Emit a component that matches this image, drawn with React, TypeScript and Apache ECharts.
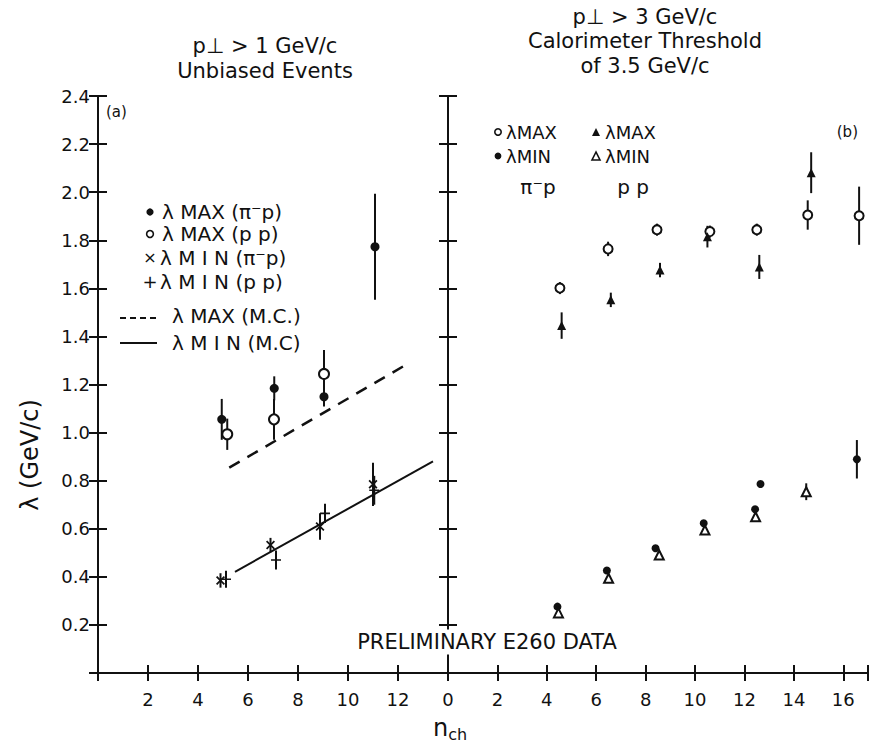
import React, { useEffect, useRef } from "react";
import * as echarts from "echarts";

// ---------- Panel (a): p⊥ > 1 GeV/c, unbiased events  [n_ch, λ, error] ----------
const maxPiP_a = [[4.95, 1.055, 0.085], [7.05, 1.184, 0.05], [9.04, 1.149, 0.04], [11.08, 1.773, 0.22]];
const maxPP_a = [[5.17, 0.993, 0.065], [7.04, 1.055, 0.085], [9.04, 1.244, 0.1]];
const minPiP_a = [[4.9, 0.385, 0.03], [6.9, 0.532, 0.03], [8.88, 0.609, 0.055], [11.0, 0.785, 0.09]];
const minPP_a = [[5.12, 0.39, 0.035], [7.12, 0.47, 0.04], [9.08, 0.664, 0.04], [11.05, 0.76, 0.06]];
const mcMax_a = [[5.25, 0.854], [12.3, 1.281]];
const mcMin_a = [[5.48, 0.421], [13.4, 0.88]];

// ---------- Panel (b): p⊥ > 3 GeV/c, calorimeter threshold 3.5 GeV/c ----------
const maxPiP_b = [[4.53, 1.601, 0.025], [6.48, 1.764, 0.03], [8.46, 1.844, 0.025], [10.6, 1.836, 0.025], [12.5, 1.844, 0.025], [14.56, 1.905, 0.061], [16.64, 1.902, 0.121]];
const maxPP_b = [[4.6, 1.445, 0.055], [6.59, 1.552, 0.03], [8.58, 1.676, 0.03], [10.5, 1.815, 0.045], [12.6, 1.689, 0.05], [14.7, 2.081, 0.085]];
const minPiP_b = [[4.43, 0.276, 0.01], [6.43, 0.426, 0.01], [8.4, 0.519, 0.01], [10.35, 0.623, 0.01], [12.43, 0.681, 0.01], [12.65, 0.786, 0.01], [16.55, 0.889, 0.08]];
const minPP_b = [[4.47, 0.25, 0.01], [6.5, 0.394, 0.01], [8.55, 0.491, 0.01], [10.4, 0.595, 0.01], [12.45, 0.65, 0.01], [14.5, 0.754, 0.035]];

// ---------- Tick labels ----------
const yTickLabels = ["0.2", "0.4", "0.6", "0.8", "1.0", "1.2", "1.4", "1.6", "1.8", "2.0", "2.2", "2.4"];
const xTickLabels_a = ["2", "4", "6", "8", "10", "12"];
const xTickLabels_b = ["0", "2", "4", "6", "8", "10", "12", "14", "16"];

const FONT = "'DejaVu Sans', sans-serif";
const INK = "#111111";
const PLUS = "path://M4.2,0H5.8V10H4.2ZM0,4.2H10V5.8H0Z";

function errSeries(data: number[][], idx: number) {
  return {
    type: "custom",
    xAxisIndex: idx * 2,
    yAxisIndex: idx * 2,
    silent: true,
    z: 2,
    data: data,
    encode: { x: 0, y: 1 },
    renderItem: (_p: any, api: any) => {
      const x = api.value(0), y = api.value(1), e = api.value(2);
      const a = api.coord([x, y - e]);
      const b = api.coord([x, y + e]);
      return { type: "line", shape: { x1: a[0], y1: a[1], x2: b[0], y2: b[1] }, style: { stroke: INK, lineWidth: 2 } };
    },
  };
}

function pts(data: number[][], idx: number, symbol: string, size: number, open = false, rotate = 0) {
  return {
    type: "scatter",
    xAxisIndex: idx * 2,
    yAxisIndex: idx * 2,
    silent: true,
    z: 3,
    symbol,
    symbolSize: size,
    symbolRotate: rotate,
    data: data.map((d) => [d[0], d[1]]),
    itemStyle: open
      ? { color: "#fff", borderColor: INK, borderWidth: 2, opacity: 1 }
      : { color: INK, opacity: 1 },
  };
}

function xAxes(grid: number, max: number, labels: string[]) {
  return [
    {
      type: "value", gridIndex: grid, min: 0, max, interval: 2, position: "bottom",
      axisLine: { show: true, lineStyle: { color: INK, width: 2 } },
      axisTick: { show: true, inside: true, length: 8, lineStyle: { color: INK, width: 2 } },
      splitLine: { show: false },
      axisLabel: {
        color: INK, fontSize: 18, fontFamily: FONT, margin: 17,
        formatter: (v: number) => (labels.includes(String(v)) ? String(v) : ""),
      },
    },
    {
      type: "value", gridIndex: grid, min: 0, max, interval: 2, position: "top",
      axisLine: { show: true, lineStyle: { color: INK, width: 2 } },
      axisTick: { show: true, inside: true, length: 8, lineStyle: { color: INK, width: 2 } },
      splitLine: { show: false },
      axisLabel: { show: false },
    },
  ];
}

function yAxes(grid: number, withLabels: boolean) {
  return [
    {
      type: "value", gridIndex: grid, min: 0, max: 2.4, interval: 0.2, position: "left",
      axisLine: { show: true, lineStyle: { color: INK, width: 2 } },
      axisTick: { show: true, inside: true, length: 9, lineStyle: { color: INK, width: 2 } },
      splitLine: { show: false },
      axisLabel: {
        show: withLabels, color: INK, fontSize: 18, fontFamily: FONT, margin: 8,
        formatter: (v: number) => {
          const s = v.toFixed(1);
          return yTickLabels.includes(s) ? s : "";
        },
      },
    },
    {
      type: "value", gridIndex: grid, min: 0, max: 2.4, interval: 0.2, position: "right",
      axisLine: { show: true, lineStyle: { color: INK, width: 2 } },
      axisTick: { show: true, inside: true, length: 9, lineStyle: { color: INK, width: 2 } },
      splitLine: { show: false },
      axisLabel: { show: false },
    },
  ];
}

function txt(x: number, y: number, text: string, size = 18, align = "left", extra: any = {}) {
  return {
    type: "text", x, y, silent: true, z: 10,
    style: { text, fill: INK, font: `${size}px ${FONT}`, align, verticalAlign: "middle", ...extra },
  };
}

export default function App() {
  const ref = useRef<HTMLDivElement>(null);
  useEffect(() => {
    document.body.style.margin = "0";
    const chart = echarts.init(ref.current!, null, { renderer: "svg" });
    const graphic: any[] = [
      // titles
      txt(265, 46, "p⊥ > 1 GeV/c", 21, "center"),
      txt(265, 71, "Unbiased Events", 21, "center"),
      txt(645, 17, "p⊥ > 3 GeV/c", 21, "center"),
      txt(645, 41, "Calorimeter Threshold", 21, "center"),
      txt(645, 66, "of 3.5 GeV/c", 21, "center"),
      txt(106, 112, "(a)", 15),
      txt(858, 132, "(b)", 15, "right"),
      // legend (a)
      { type: "circle", shape: { cx: 150, cy: 212, r: 3.6 }, style: { fill: INK }, silent: true },
      { type: "circle", shape: { cx: 150, cy: 234, r: 3.4 }, style: { fill: "#fff", stroke: INK, lineWidth: 1.6 }, silent: true },
      txt(150, 257, "×", 16, "center"),
      txt(150, 281, "+", 18, "center"),
      txt(162, 212, "λ MAX (π⁻p)", 20),
      txt(162, 234, "λ MAX (p p)", 20),
      txt(160, 258, "λ M I N (π⁻p)", 20),
      txt(160, 282, "λ M I N (p p)", 20),
      { type: "line", shape: { x1: 120, y1: 318, x2: 157, y2: 318 }, style: { stroke: INK, lineWidth: 2, lineDash: [6, 4] }, silent: true },
      { type: "line", shape: { x1: 120, y1: 343, x2: 157, y2: 343 }, style: { stroke: INK, lineWidth: 2 }, silent: true },
      txt(172, 316, "λ MAX (M.C.)", 20),
      txt(172, 343, "λ M I N (M.C)", 20),
      // legend (b)
      { type: "circle", shape: { cx: 498, cy: 132, r: 3.2 }, style: { fill: "#fff", stroke: INK, lineWidth: 1.6 }, silent: true },
      { type: "circle", shape: { cx: 498, cy: 156, r: 3.4 }, style: { fill: INK }, silent: true },
      { type: "polygon", shape: { points: [[596, 128], [592, 136], [600, 136]] }, style: { fill: INK }, silent: true },
      { type: "polygon", shape: { points: [[596, 152], [592, 160], [600, 160]] }, style: { fill: "#fff", stroke: INK, lineWidth: 1.6 }, silent: true },
      txt(506, 132, "λMAX", 18),
      txt(506, 156, "λMIN", 18),
      txt(605, 132, "λMAX", 18),
      txt(605, 156, "λMIN", 18),
      txt(538, 187, "π⁻p", 20, "center"),
      txt(633, 187, "p p", 20, "center"),
      // footer
      txt(487, 642, "PRELIMINARY E260 DATA", 21, "center", { backgroundColor: "#fff", padding: [2, 2] }),
      txt(450, 728, "", 20, "center", {
        text: "{n|n}{s|ch}",
        rich: { n: { font: `24px ${FONT}`, fill: INK }, s: { font: `16px ${FONT}`, fill: INK, padding: [12, 0, 0, 0] } },
      }),
      {
        type: "text", x: 30, y: 455, rotation: Math.PI / 2, silent: true,
        style: { text: "λ (GeV/c)", fill: INK, font: `24px ${FONT}`, align: "center", verticalAlign: "middle" },
      },
    ];

    chart.setOption({
      animation: false,
      backgroundColor: "#fff",
      grid: [
        { left: 98, top: 96, width: 350, height: 577 },
        { left: 448, top: 96, width: 420, height: 577 },
      ],
      xAxis: [...xAxes(0, 14, xTickLabels_a), ...xAxes(1, 17, xTickLabels_b)],
      yAxis: [...yAxes(0, true), ...yAxes(1, false)],
      series: [
        // panel a
        {
          type: "line", xAxisIndex: 0, yAxisIndex: 0, data: mcMax_a, symbol: "none", silent: true, z: 1,
          lineStyle: { color: INK, width: 2.5, type: [12, 9] },
        },
        {
          type: "line", xAxisIndex: 0, yAxisIndex: 0, data: mcMin_a, symbol: "none", silent: true, z: 1,
          lineStyle: { color: INK, width: 2 },
        },
        errSeries(maxPiP_a, 0),
        errSeries(maxPP_a, 0),
        errSeries(minPiP_a, 0),
        errSeries(minPP_a, 0),
        pts(maxPiP_a, 0, "circle", 9),
        pts(maxPP_a, 0, "circle", 10, true),
        pts(minPiP_a, 0, PLUS, 11, false, 45),
        pts(minPP_a, 0, PLUS, 10),
        // panel b
        errSeries(maxPiP_b, 1),
        errSeries(maxPP_b, 1),
        errSeries(minPiP_b, 1),
        errSeries(minPP_b, 1),
        pts(maxPiP_b, 1, "circle", 9, true),
        pts(maxPP_b, 1, "triangle", 9),
        pts(minPiP_b, 1, "circle", 8),
        pts(minPP_b, 1, "triangle", 9, true),
      ],
      graphic,
    });
    return () => chart.dispose();
  }, []);
  return <div ref={ref} style={{ width: 884, height: 743 }} />;
}
